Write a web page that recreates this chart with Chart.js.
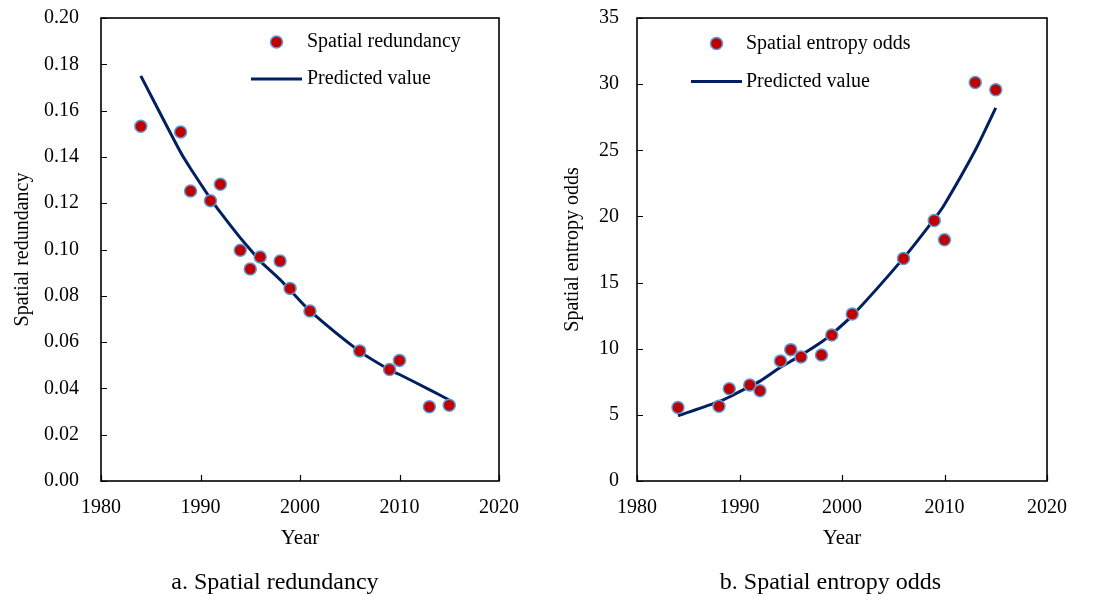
<!DOCTYPE html>
<html>
<head>
<meta charset="utf-8">
<script src="https://cdn.jsdelivr.net/npm/chart.js@4"></script>
<style>
    html, body { margin: 0; padding: 0; background: #fff; overflow: hidden; }
    #wrap { position: relative; width: 1094px; height: 596px; }
    .panel { position: absolute; top: 0; height: 596px; }
    .caption {
        position: absolute; top: 566px; height: 30px; line-height: 30px;
        text-align: center; font-family: "Liberation Serif", serif; font-size: 24px; color: #000;
    }
</style>
</head>
<body>
<div id="wrap">
    <div class="panel" style="left:0; width:547px;"><canvas id="chart-a"></canvas></div>
    <div class="panel" style="left:547px; width:547px;"><canvas id="chart-b"></canvas></div>
    <div class="caption" style="left:0; width:550px;">a. Spatial redundancy</div>
    <div class="caption" style="left:567px; width:527px;">b. Spatial entropy odds</div>
</div>
<script>
// Observation years (shared by both panels)
const years = [1984, 1988, 1989, 1991, 1992, 1994, 1995, 1996, 1998, 1999, 2001, 2006, 2009, 2010, 2013, 2015];

// a. Spatial redundancy - observed and fitted
const redundancy = [0.1532, 0.1508, 0.1253, 0.1211, 0.1282, 0.0997, 0.0916, 0.0968, 0.0950, 0.0832, 0.0734, 0.0562, 0.0482, 0.0521, 0.0321, 0.0327];
const redundancyFit = [0.175, 0.142, 0.135, 0.122, 0.116, 0.105, 0.100, 0.095, 0.087, 0.0825, 0.0735, 0.056, 0.048, 0.046, 0.0395, 0.035];

// b. Spatial entropy odds - observed and fitted
const entropyOdds = [5.55, 5.65, 6.98, 7.26, 6.83, 9.08, 9.93, 9.38, 9.53, 11.04, 12.63, 16.82, 19.69, 18.23, 30.13, 29.58];
const entropyFit = [4.93, 6.0, 6.35, 7.15, 7.55, 8.6, 9.05, 9.5, 10.5, 11.1, 12.5, 16.85, 19.8, 20.9, 25.0, 28.2];

// Axis ranges / tick steps
const xRange = { min: 1980, max: 2020, step: 10 };
const yRangeA = { min: 0, max: 0.2, step: 0.02 };
const yRangeB = { min: 0, max: 35, step: 5 };

const FONT = '"Liberation Serif", "Times New Roman", serif';
const pointFill = '#C00000';
const pointEdge = '#5B9BD5';
const lineColor = '#002060';

// draws the box round the plot and the short inward tick marks
const frameTicks = {
    id: 'frameTicks',
    beforeDatasetsDraw(chart) {
        const { ctx, chartArea: a, scales: { x, y } } = chart;
        ctx.save();
        ctx.strokeStyle = '#000';
        ctx.lineWidth = 1.2;
        ctx.beginPath();
        x.ticks.forEach(t => {
            const px = Math.round(x.getPixelForValue(t.value)) + 0.5;
            ctx.moveTo(px, a.bottom);
            ctx.lineTo(px, a.bottom - 6);
        });
        y.ticks.forEach(t => {
            const py = Math.round(y.getPixelForValue(t.value)) + 0.5;
            ctx.moveTo(a.left, py);
            ctx.lineTo(a.left + 6, py);
        });
        ctx.stroke();
        ctx.lineWidth = 1.6;
        ctx.strokeRect(a.left, a.top, a.right - a.left, a.bottom - a.top);
        ctx.restore();
    }
};

// legend drawn inside the plot area, like the Excel original
const insideLegend = {
    id: 'insideLegend',
    afterDraw(chart, args, opts) {
        const { ctx, chartArea: a } = chart;
        const ds = chart.data.datasets;
        ctx.save();
        ctx.font = '20px ' + FONT;
        ctx.textBaseline = 'middle';
        ctx.textAlign = 'left';
        // row 1: marker
        const y1 = a.top + opts.rowY[0];
        ctx.beginPath();
        ctx.arc(a.left + (opts.lineX[0] + opts.lineX[1]) / 2, y1, ds[0].pointRadius, 0, Math.PI * 2);
        ctx.fillStyle = pointFill;
        ctx.fill();
        ctx.lineWidth = ds[0].borderWidth;
        ctx.strokeStyle = pointEdge;
        ctx.stroke();
        ctx.fillStyle = '#000';
        ctx.fillText(ds[0].label, a.left + opts.textX, y1);
        // row 2: line sample
        const y2 = a.top + opts.rowY[1];
        ctx.beginPath();
        ctx.moveTo(a.left + opts.lineX[0], y2);
        ctx.lineTo(a.left + opts.lineX[1], y2);
        ctx.strokeStyle = lineColor;
        ctx.lineWidth = ds[1].borderWidth;
        ctx.stroke();
        ctx.fillText(ds[1].label, a.left + opts.textX, y2);
        ctx.restore();
    }
};

function toPoints(xs, ys) {
    return xs.map((v, i) => ({ x: v, y: ys[i] }));
}

function makeChart(id, cfg) {
    return new Chart(document.getElementById(id), {
        type: 'scatter',
        data: {
            datasets: [{
                label: cfg.pointLabel,
                data: toPoints(years, cfg.observed),
                pointRadius: 6,
                pointHoverRadius: 6,
                backgroundColor: pointFill,
                borderColor: pointEdge,
                borderWidth: 1.5,
                showLine: false
            }, {
                label: 'Predicted value',
                data: toPoints(years, cfg.fitted),
                showLine: true,
                pointRadius: 0,
                borderColor: lineColor,
                borderWidth: 3,
                tension: 0.25
            }]
        },
        options: {
            responsive: true,
            maintainAspectRatio: false,
            animation: false,
            layout: { padding: { top: 18, right: cfg.padRight, bottom: 45, left: 0 } },
            plugins: {
                legend: { display: false },
                tooltip: { enabled: false },
                insideLegend: cfg.legend
            },
            scales: {
                x: {
                    type: 'linear',
                    min: xRange.min,
                    max: xRange.max,
                    grid: { display: false, tickLength: 8 },
                    border: { display: false },
                    ticks: {
                        stepSize: xRange.step,
                        padding: 7,
                        color: '#000',
                        maxRotation: 0,
                        font: { family: FONT, size: 20 },
                        callback: v => String(v)
                    },
                    title: {
                        display: true,
                        text: 'Year',
                        color: '#000',
                        font: { family: FONT, size: 21 },
                        padding: { top: 0, bottom: 0 }
                    },
                    afterFit: s => { s.height = 70; }
                },
                y: {
                    min: cfg.yRange.min,
                    max: cfg.yRange.max,
                    grid: { display: false, tickLength: cfg.tickGap },
                    border: { display: false },
                    ticks: {
                        stepSize: cfg.yRange.step,
                        padding: 0,
                        color: '#000',
                        font: { family: FONT, size: 20 },
                        callback: v => v.toFixed(cfg.decimals)
                    },
                    title: {
                        display: true,
                        text: cfg.yTitle,
                        color: '#000',
                        font: { family: FONT, size: 20 },
                        padding: { top: cfg.titlePad, bottom: 0 }
                    },
                    afterFit: s => { s.width = cfg.yWidth; }
                }
            }
        },
        plugins: [frameTicks, insideLegend]
    });
}

makeChart('chart-a', {
    pointLabel: 'Spatial redundancy',
    observed: redundancy,
    fitted: redundancyFit,
    yRange: yRangeA,
    yTitle: 'Spatial redundancy',
    decimals: 2,
    yWidth: 101,
    padRight: 48,
    tickGap: 22,
    titlePad: 11,
    legend: { lineX: [150, 201], textX: 206, rowY: [24, 61] }
});

makeChart('chart-b', {
    pointLabel: 'Spatial entropy odds',
    observed: entropyOdds,
    fitted: entropyFit,
    yRange: yRangeB,
    yTitle: 'Spatial entropy odds',
    decimals: 0,
    yWidth: 90,
    padRight: 47,
    tickGap: 18,
    titlePad: 14,
    legend: { lineX: [54, 105], textX: 109, rowY: [25.5, 63.5] }
});
</script>
</body>
</html>
